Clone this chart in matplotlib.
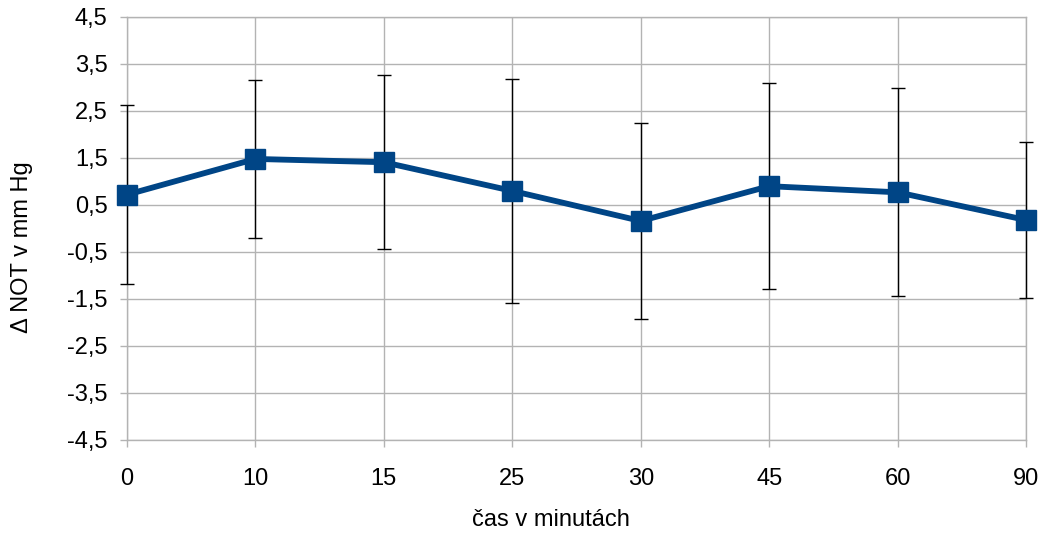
import numpy as np
import matplotlib.pyplot as plt
from matplotlib.ticker import FuncFormatter

plt.rcParams['font.family'] = ['Liberation Sans', 'DejaVu Sans']

# casy mereni a prumerne zmeny NOT
casy = ['0', '10', '15', '25', '30', '45', '60', '90']
prumer = [0.72, 1.48, 1.41, 0.80, 0.16, 0.90, 0.77, 0.18]
odchylka = [1.91, 1.68, 1.85, 2.38, 2.08, 2.19, 2.21, 1.66]

grid_col = '#b3b3b3'
modra = '#004586'

fig = plt.figure(figsize=(10.48, 5.43), dpi=100)
ax = fig.add_axes([0.1212, 0.1897, 0.8578, 0.779])

x = np.arange(len(casy))
eb = ax.errorbar(x, prumer, yerr=odchylka, fmt='none', ecolor='black',
                 elinewidth=1, capsize=5, capthick=1, zorder=3)
for art in eb.lines[1] + eb.lines[2]:
    art.set_clip_on(False)
ax.plot(x, prumer, color=modra, linewidth=4.2, marker='s',
        markersize=14.5, zorder=4, clip_on=False)

ax.set_xlim(0, len(casy) - 1)
ax.set_ylim(-4.5, 4.5)
ax.set_xticks(x)
ax.set_xticklabels(casy)
ax.set_yticks(np.arange(-4.5, 4.6, 1.0))
ax.yaxis.set_major_formatter(FuncFormatter(lambda v, p: f'{v:.1f}'.replace('.', ',')))

ax.grid(True, color=grid_col, linewidth=1)
ax.set_axisbelow(True)
for s in ax.spines.values():
    s.set_color(grid_col)
    s.set_linewidth(1)
ax.tick_params(axis='both', colors=grid_col, labelcolor='black',
               labelsize=17, length=5, width=1)
ax.tick_params(axis='x', pad=15)
ax.tick_params(axis='y', pad=9)

ax.set_xlabel('čas v minutách', fontsize=17)
ax.set_ylabel('Δ NOT v mm Hg', fontsize=17)
ax.xaxis.set_label_coords(0.472, -0.163)
ax.yaxis.set_label_coords(-0.1047, 0.456)

fig.savefig('out.png', dpi=100)
